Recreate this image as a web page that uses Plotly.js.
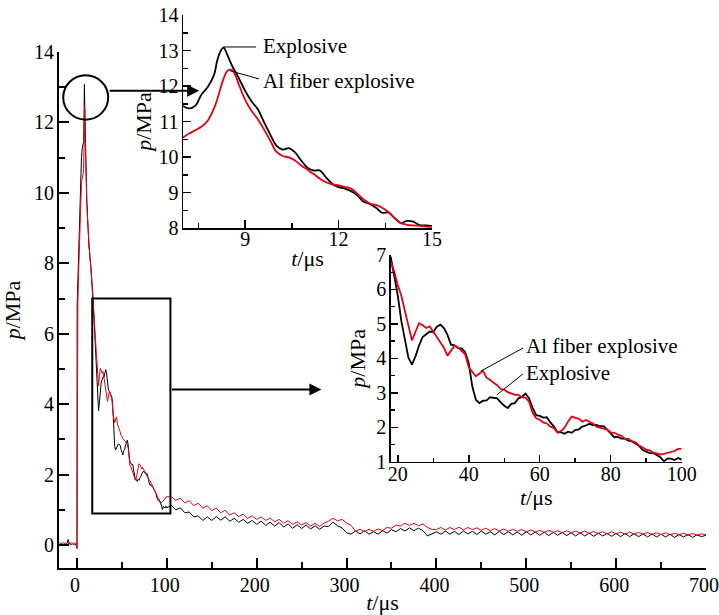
<!DOCTYPE html>
<html>
<head>
<meta charset="utf-8">
<script src="https://cdn.plot.ly/plotly-3.0.1.min.js"></script>
<style>
html,body{margin:0;padding:0;background:#fff;}
#chart{width:719px;height:615px;}
</style>
</head>
<body>
<div id="chart"></div>
<script>
// ---- data ----
// pre-trigger baseline
const preT = [-20,-19,-18,-17,-16,-15,-14,-13,-12,-11,-10,-9,-8,-7,-6,-5,-4,-3,-2,-1,0];
const preBlack = [0.03,0.01,0.04,0.02,0.03,0.01,0.04,0.02,0.03,0.05,0.16,0.04,0.02,0.03,0.01,0.04,0.02,0.03,0.01,0.02,-0.08];
const preRed = [0.05,0.07,0.04,0.06,0.05,0.07,0.04,0.06,0.05,0.07,0.06,0.04,0.07,0.05,0.06,0.04,0.07,0.05,0.06,0.04,-0.1];
// rise
const riseT = [0.2,1,2,3,4,5,6];
const riseBlack = [6.8,7.6,8.4,9.3,10.2,11.0,11.3];
const riseRed = [6.0,6.9,7.9,8.8,9.8,10.3,10.45];
// peak (inset 1)
const peakT = [7.0,7.2,7.4,7.6,7.8,8.0,8.1,8.2,8.3,8.4,8.5,8.6,8.7,8.8,9.0,9.2,9.4,9.6,9.8,10.0,10.2,10.4,10.6,10.8,11.0,11.2,11.4,11.6,11.8,12.0,12.2,12.4,12.6,12.8,13.0,13.2,13.4,13.6,13.8,14.0,14.2,14.4,14.6,14.8,15.0];
const peakBlack = [11.44,11.37,11.45,11.77,11.98,12.32,12.72,12.97,13.08,12.93,12.72,12.53,12.38,12.21,11.86,11.57,11.35,10.99,10.64,10.32,10.21,10.25,10.13,9.9,9.7,9.62,9.62,9.42,9.24,9.15,9.11,9.04,8.92,8.74,8.68,8.57,8.43,8.44,8.28,8.14,8.2,8.18,8.08,8.07,8.06];
const peakRed = [10.55,10.66,10.76,10.86,11.03,11.38,11.62,11.92,12.2,12.4,12.46,12.43,12.27,12.03,11.6,11.3,11.07,10.78,10.47,10.15,10.03,9.99,9.9,9.76,9.64,9.52,9.39,9.29,9.23,9.2,9.16,9.11,8.97,8.81,8.69,8.65,8.57,8.45,8.28,8.14,8.09,8.07,8.06,8.04,8.03];
// transition
const transT = [15.5,16,16.5,17,17.5];
const transBlack = [7.92,7.75,7.58,7.38,7.18];
const transRed = [7.85,7.62,7.4,7.18,6.98];
// decay (inset 2)
const midT = [18,19,20,21,22,23,24,25,26,27,28,29,30,31,32,33,34,35,36,37,38,39,40,41,42,43,44,45,46,47,48,49,50,51,52,53,54,55,56,57,58,59,60,61,62,63,64,65,66,67,68,69,70,71,72,73,74,75,76,77,78,79,80,81,82,83,84,85,86,87,88,89,90,91,92,93,94,95,96,97,98,99,100];
const midBlack = [6.95,6.38,5.82,5.08,4.52,4.02,3.82,4.06,4.38,4.62,4.7,4.78,4.76,4.92,4.98,4.88,4.68,4.4,4.38,4.3,4.29,4.18,3.86,3.18,2.8,2.7,2.77,2.78,2.87,2.86,2.84,2.72,2.62,2.56,2.68,2.7,2.84,2.88,2.98,2.84,2.56,2.35,2.33,2.28,2.29,2.14,2.02,1.85,1.86,1.81,1.87,1.84,1.92,1.94,2.02,2.05,2.1,2.06,2.07,2.03,2.03,1.93,1.81,1.71,1.72,1.67,1.67,1.61,1.59,1.52,1.46,1.34,1.3,1.25,1.25,1.19,1.13,1.01,1.09,1.09,1.05,1.11,1.06];
const midRed = [6.8,6.52,6.12,5.82,5.38,4.97,4.52,4.78,5.02,4.96,4.88,4.93,4.78,4.64,4.48,4.31,4.08,4.22,4.37,4.31,4.21,4.12,3.74,3.6,3.48,3.56,3.64,3.44,3.38,3.29,3.22,3.11,3.09,3.02,2.99,2.94,2.94,2.87,2.86,2.74,2.42,2.26,2.22,2.14,2.11,2.02,1.97,1.85,1.89,1.99,2.17,2.31,2.27,2.25,2.16,2.21,2.16,2.11,2.02,1.99,1.95,1.93,1.85,1.84,1.79,1.75,1.67,1.66,1.59,1.56,1.47,1.42,1.35,1.33,1.26,1.24,1.21,1.23,1.25,1.29,1.31,1.37,1.37];
// tail
const tailT = [105,110,115,120,125,130,135,140,145,150,155,160,165,170,175,180,185,190,195,200,205,210,215,220,225,230,235,240,245,250,255,260,265,270,275,280,285,290,295,300,305,310,315,320,325,330,335,340,345,350,355,360,365,370,375,380,385,390,395,400,405,410,415,420,425,430,435,440,445,450,455,460,465,470,475,480,485,490,495,500,505,510,515,520,525,530,535,540,545,550,555,560,565,570,575,580,585,590,595,600,605,610,615,620,625,630,635,640,645,650,655,660,665,670,675,680,685,690,695,700];
const tailBlack = [1.13,1.0,1.06,0.92,0.94,0.8,0.83,0.7,
  0.8,0.7,0.81,0.71,0.8,0.68,0.76,0.65,0.73,0.62,0.7,0.59,
  0.68,0.56,0.65,0.54,0.64,0.51,0.6,0.48,0.58,0.47,0.57,0.46,0.55,0.45,0.54,
  0.53,0.65,0.55,0.49,0.35,
  0.31,0.4,0.32,0.41,0.31,0.38,0.31,0.41,0.34,0.44,0.38,0.47,0.4,0.49,0.41,0.48,0.41,
  0.26,0.32,0.38,0.31,0.4,0.31,0.39,0.3,0.4,0.32,0.39,0.3,0.4,0.31,0.38,0.29,0.39,0.3,0.38,0.29,0.37,0.28,0.38,0.29,0.37,0.28,0.37,0.27,0.36,0.28,0.36,0.27,0.35,0.26,0.35,0.26,0.34,0.25,0.34,0.26,0.33,0.25,0.33,0.24,0.33,0.24,0.32,0.24,0.32,0.23,0.32,0.23,0.31,0.23,0.31,0.22,0.3,0.23,0.3,0.22,0.29,0.24,0.28];
const tailRed = [1.38,1.27,1.33,1.2,1.26,1.12,1.19,1.05,
  1.12,0.98,1.05,0.92,0.99,0.85,0.92,0.81,0.88,0.76,0.83,0.73,
  0.8,0.7,0.77,0.66,0.73,0.62,0.69,0.59,0.66,0.57,0.64,0.54,0.62,0.53,0.62,
  0.68,0.76,0.69,0.73,0.63,
  0.56,0.39,0.45,0.38,0.45,0.39,0.46,0.41,0.5,0.48,0.57,0.54,0.62,0.56,0.62,0.55,0.6,
  0.5,0.45,0.44,0.5,0.43,0.5,0.44,0.51,0.43,0.5,0.44,0.49,0.42,0.48,0.41,0.47,0.4,0.46,0.39,0.45,0.39,0.44,0.38,0.43,0.37,0.42,0.36,0.42,0.36,0.41,0.35,0.41,0.35,0.4,0.34,0.4,0.33,0.39,0.33,0.38,0.32,0.38,0.32,0.37,0.31,0.37,0.31,0.36,0.31,0.36,0.3,0.35,0.3,0.35,0.29,0.34,0.29,0.34,0.28,0.33,0.28,0.32,0.29];

const seriesNames = ['Explosive','Al fiber explosive'];
const xTitle = '<i>t</i>/μs';
const yTitle = '<i>p</i>/MPa';

// ---- build ----
const mainT = [].concat(preT, riseT, peakT, transT, midT, tailT);
const mainBlack = [].concat(preBlack, riseBlack, peakBlack, transBlack, midBlack, tailBlack);
const mainRed = [].concat(preRed, riseRed, peakRed, transRed, midRed, tailRed);

const BLACK = '#000000', RED = '#e60012';
const FONT = 'Liberation Serif';

const traces = [
  {x: mainT, y: mainBlack, xaxis:'x', yaxis:'y', mode:'lines', name: seriesNames[0], line:{color:BLACK, width:1}},
  {x: mainT, y: mainRed, xaxis:'x', yaxis:'y', mode:'lines', name: seriesNames[1], line:{color:RED, width:1}},
  {x: peakT, y: peakBlack, xaxis:'x2', yaxis:'y2', mode:'lines', name: seriesNames[0], line:{color:BLACK, width:1.8, shape:'spline'}},
  {x: peakT, y: peakRed, xaxis:'x2', yaxis:'y2', mode:'lines', name: seriesNames[1], line:{color:RED, width:1.8, shape:'spline'}},
  {x: midT, y: midBlack, xaxis:'x3', yaxis:'y3', mode:'lines', name: seriesNames[0], line:{color:BLACK, width:1.8}},
  {x: midT, y: midRed, xaxis:'x3', yaxis:'y3', mode:'lines', name: seriesNames[1], line:{color:RED, width:1.8}}
];

function ax(opts) {
  return Object.assign({
    showline:true, linecolor:BLACK, showgrid:false, zeroline:false,
    ticks:'inside', tickcolor:BLACK, tickfont:{family:FONT, size:20, color:BLACK},
    mirror:false, fixedrange:true
  }, opts);
}

const layout = {
  width:719, height:615,
  margin:{l:0, r:0, t:0, b:0},
  paper_bgcolor:'#fff', plot_bgcolor:'rgba(0,0,0,0)',
  showlegend:false,
  font:{family:FONT, color:BLACK, size:20},
  xaxis: ax({domain:[59/719, 706/719], anchor:'y', range:[-20, 700.01], dtick:100, tick0:0, ticklen:10, tickwidth:2, linewidth:2,
    minor:{dtick:50, ticklen:6, tickwidth:2, tickcolor:BLACK, ticks:'inside'},
    ticklabelstandoff:-2, ticklabelshift:-2,
    title:{text:xTitle, font:{family:FONT, size:22}, standoff:4}}),
  yaxis: ax({domain:[1-568/615, 1-52/615], anchor:'x', range:[-0.65, 14.001], dtick:2, tick0:0, ticklen:10, tickwidth:2, linewidth:2,
    minor:{dtick:1, ticklen:6, tickwidth:2, tickcolor:BLACK, ticks:'inside'},
    ticklabelstandoff:-1,
    title:{text:yTitle, font:{family:FONT, size:22}, standoff:8}}),
  xaxis2: ax({domain:[183/719, 432/719], anchor:'y2', range:[7, 15.001], dtick:3, tick0:0, ticklen:8, tickwidth:1.5, linewidth:1.5,
    minor:{dtick:1.5, ticklen:5, tickwidth:1.5, tickcolor:BLACK, ticks:'inside'},
    ticklabelstandoff:-8,
    title:{text:xTitle, font:{family:FONT, size:22}, standoff:2}}),
  yaxis2: ax({domain:[1-228/615, 1-15/615], anchor:'x2', range:[8, 14.001], dtick:1, tick0:0, ticklen:8, tickwidth:1.5, linewidth:1.5,
    minor:{dtick:0.5, ticklen:5, tickwidth:1.5, tickcolor:BLACK, ticks:'inside'},
    ticklabelstandoff:-1,
    title:{text:yTitle, font:{family:FONT, size:22}, standoff:1}}),
  xaxis3: ax({domain:[390.7/719, 681.7/719], anchor:'y3', range:[18, 100.01], dtick:20, tick0:0, ticklen:7, tickwidth:1.5, linewidth:1.5,
    minor:{dtick:10, ticklen:4, tickwidth:1.5, tickcolor:BLACK, ticks:'inside'},
    ticklabelstandoff:-6,
    title:{text:xTitle, font:{family:FONT, size:22}, standoff:0}}),
  yaxis3: ax({domain:[1-461.7/615, 1-255/615], anchor:'x3', range:[1, 7.001], dtick:1, tick0:0, ticklen:7, tickwidth:1.5, linewidth:1.5,
    minor:{dtick:0.5, ticklen:4, tickwidth:1.5, tickcolor:BLACK, ticks:'inside'},
    ticklabelstandoff:-1,
    title:{text:yTitle, font:{family:FONT, size:22}, standoff:4}}),
  shapes: [
    {type:'circle', xref:'x', yref:'y', x0:-15.3, x1:34.7, y0:12.08, y1:13.34, line:{color:BLACK, width:2}},
    {type:'rect', xref:'x', yref:'y', x0:17, x1:104, y0:0.9, y1:7.0, line:{color:BLACK, width:2}},
    {type:'line', xref:'x2', yref:'y2', x0:8.3, y0:13.1, x1:9.35, y1:13.1, line:{color:BLACK, width:1}},
    {type:'line', xref:'x2', yref:'y2', x0:8.51, y0:12.43, x1:9.44, y1:12.2, line:{color:BLACK, width:1}},
    {type:'line', xref:'x3', yref:'y3', x0:43.4, y0:3.63, x1:55.3, y1:4.3, line:{color:BLACK, width:1}},
    {type:'line', xref:'x3', yref:'y3', x0:47.9, y0:2.94, x1:55.3, y1:3.55, line:{color:BLACK, width:1}}
  ],
  annotations: [
    {xref:'x', yref:'y', axref:'x', ayref:'y', x:136, y:12.9, ax:34.7, ay:12.9, showarrow:true, arrowhead:2, arrowsize:1.2, arrowwidth:2, arrowcolor:BLACK, text:''},
    {xref:'x', yref:'y', axref:'x', ayref:'y', x:272, y:4.42, ax:104, ay:4.42, showarrow:true, arrowhead:2, arrowsize:1.2, arrowwidth:2, arrowcolor:BLACK, text:''},
    {xref:'x2', yref:'y2', x:9.5, y:13.13, xanchor:'left', yanchor:'middle', showarrow:false, text:seriesNames[0], font:{family:FONT, size:21, color:BLACK}},
    {xref:'x2', yref:'y2', x:9.5, y:12.15, xanchor:'left', yanchor:'middle', showarrow:false, text:seriesNames[1], font:{family:FONT, size:21, color:BLACK}},
    {xref:'x3', yref:'y3', x:55.6, y:4.36, xanchor:'left', yanchor:'middle', showarrow:false, text:seriesNames[1], font:{family:FONT, size:21, color:BLACK}},
    {xref:'x3', yref:'y3', x:55.6, y:3.57, xanchor:'left', yanchor:'middle', showarrow:false, text:seriesNames[0], font:{family:FONT, size:21, color:BLACK}}
  ]
};

Plotly.newPlot('chart', traces, layout, {displayModeBar:false, staticPlot:true});
</script>
</body>
</html>
